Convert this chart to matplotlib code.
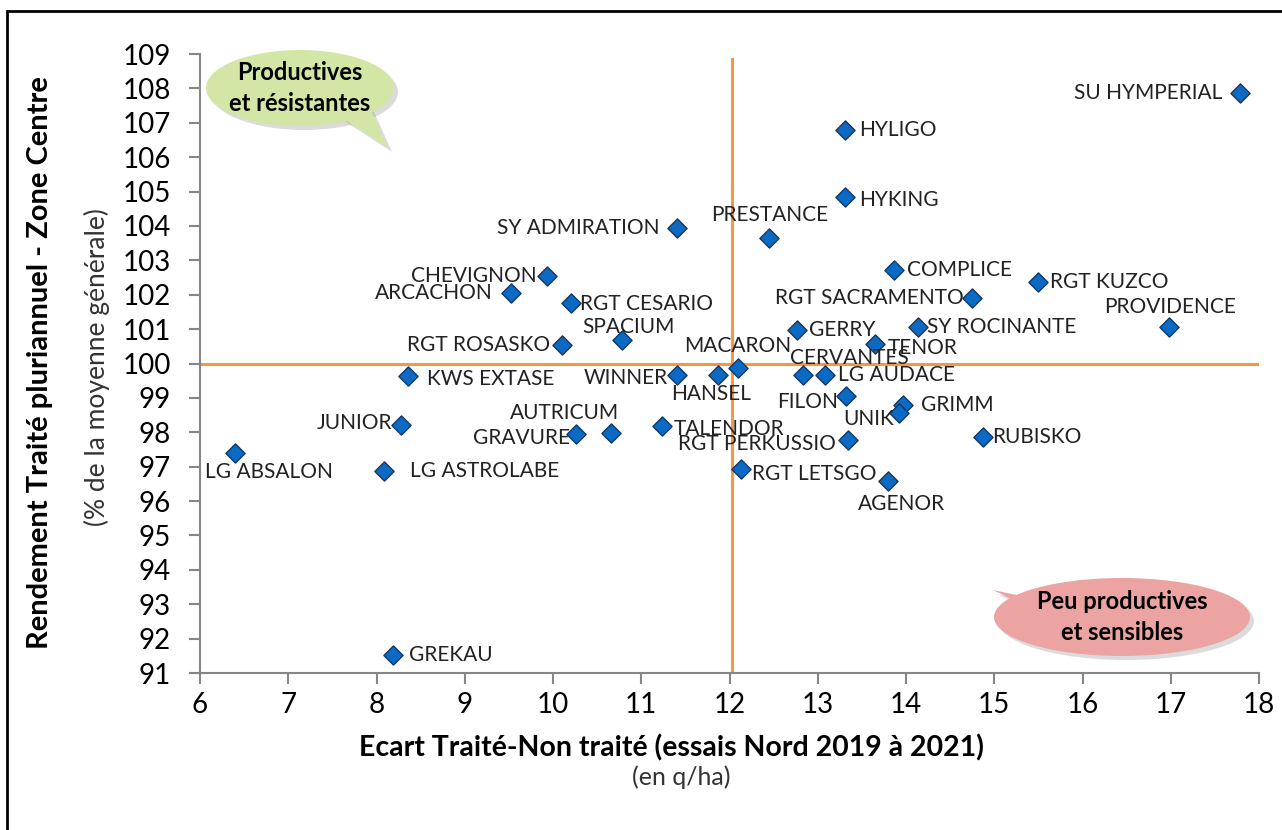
import matplotlib
matplotlib.use("Agg")
from matplotlib import pyplot as plt
from matplotlib.patches import Ellipse, Polygon, Rectangle

plt.rcParams['font.family'] = ['Lato', 'DejaVu Sans']

# Varieties and values
varietes = ['SU HYMPERIAL', 'HYLIGO', 'HYKING', 'SY ADMIRATION', 'PRESTANCE',
            'COMPLICE', 'RGT KUZCO', 'RGT SACRAMENTO', 'PROVIDENCE', 'SY ROCINANTE',
            'GERRY', 'TENOR', 'CHEVIGNON', 'ARCACHON', 'RGT CESARIO', 'SPACIUM',
            'RGT ROSASKO', 'KWS EXTASE', 'WINNER', 'HANSEL', 'MACARON', 'CERVANTES',
            'LG AUDACE', 'FILON', 'GRIMM', 'UNIK', 'RGT PERKUSSIO', 'RGT LETSGO',
            'AGENOR', 'RUBISKO', 'TALENDOR', 'GRAVURE', 'AUTRICUM', 'JUNIOR',
            'LG ABSALON', 'LG ASTROLABE', 'GREKAU']
ecart = [17.78, 13.31, 13.31, 11.41, 12.45,
         13.86, 15.50, 14.75, 16.98, 14.14,
         12.77, 13.65, 9.93, 9.52, 10.20, 10.78,
         10.10, 8.36, 11.41, 11.87, 12.10, 12.83,
         13.08, 13.32, 13.97, 13.92, 13.34, 12.13,
         13.80, 14.87, 11.24, 10.26, 10.66, 8.28,
         6.40, 8.09, 8.19]
rendement = [107.87, 106.79, 104.84, 103.94, 103.65,
             102.72, 102.37, 101.91, 101.06, 101.06,
             100.97, 100.57, 102.55, 102.05, 101.76, 100.69,
             100.54, 99.64, 99.67, 99.67, 99.87, 99.67,
             99.67, 99.06, 98.80, 98.56, 97.78, 96.93,
             96.58, 97.86, 98.18, 97.95, 97.98, 98.21,
             97.40, 96.88, 91.52]

# label offsets in pixels (dx, dy up, ha)
offsets = {
    'SU HYMPERIAL': (-17, 0, 'right'), 'HYLIGO': (14, 0, 'left'), 'HYKING': (14, -3, 'left'),
    'SY ADMIRATION': (-18, 0, 'right'), 'PRESTANCE': (0, 23, 'center'),
    'COMPLICE': (13, 0, 'left'), 'RGT KUZCO': (12, 0, 'left'),
    'RGT SACRAMENTO': (-8, 0, 'right'), 'PROVIDENCE': (1, 20, 'center'),
    'SY ROCINANTE': (9, 0, 'left'), 'GERRY': (12, 0, 'left'), 'TENOR': (13, -4, 'left'),
    'CHEVIGNON': (-10, 0, 'right'), 'ARCACHON': (-18, 0, 'right'),
    'RGT CESARIO': (9, -1, 'left'), 'SPACIUM': (7, 13, 'center'),
    'RGT ROSASKO': (-12, 0, 'right'), 'KWS EXTASE': (19, -3, 'left'),
    'WINNER': (-10, -3, 'right'), 'HANSEL': (-7, -19, 'center'),
    'MACARON': (-1, 22, 'center'), 'CERVANTES': (47, 17, 'center'),
    'LG AUDACE': (13, 0, 'left'), 'FILON': (-8, -6, 'right'), 'GRIMM': (18, 0, 'left'),
    'UNIK': (-30, -6, 'center'), 'RGT PERKUSSIO': (-12, -4, 'right'),
    'RGT LETSGO': (11, -5, 'left'), 'AGENOR': (13, -23, 'center'),
    'RUBISKO': (9, 0, 'left'), 'TALENDOR': (11, -3, 'left'),
    'GRAVURE': (-6, -4, 'right'), 'AUTRICUM': (-47, 20, 'center'),
    'JUNIOR': (-9, 2, 'right'), 'LG ABSALON': (34, -19, 'center'),
    'LG ASTROLABE': (26, 0, 'left'), 'GREKAU': (16, 0, 'left'),
}

W, H = 1282, 830
fig = plt.figure(figsize=(W / 100, H / 100), dpi=100)
ax = fig.add_axes([200 / W, 1 - 673 / H, 1059 / W, 619 / H])


def fx(px):
    return px / W


def fy(py):
    return 1 - py / H


# outer chart frame
fig.patches.append(Rectangle((fx(7), fy(900)), fx(1300 - 7), fy(11) - fy(900),
                             transform=fig.transFigure, fill=False,
                             edgecolor='black', linewidth=2))

orange = '#f79646'
ax.axhline(100, color=orange, linewidth=2.2, zorder=1)
ax.plot([12.03, 12.03], [91, 108.85], color=orange, linewidth=2.2, zorder=1)

ax.scatter(ecart, rendement, marker='D', s=95, facecolor='#0a6ac4',
           edgecolor='#17365d', linewidth=1.0, zorder=3)

for nom, x, y in zip(varietes, ecart, rendement):
    dx, dy, ha = offsets[nom]
    ax.annotate(nom, (x, y), xytext=(dx, dy), textcoords='offset pixels',
                ha=ha, va='center', fontsize=15, color='#222222', zorder=4)

ax.set_xlim(6, 18)
ax.set_ylim(91, 109)
ax.set_xticks(range(6, 19))
ax.set_yticks(range(91, 110))
ax.tick_params(labelsize=20, length=8, width=1.5, color='#868686', pad=6)
ax.tick_params(axis='y', pad=13)
for side in ['top', 'right']:
    ax.spines[side].set_visible(False)
for side in ['left', 'bottom']:
    ax.spines[side].set_color('#868686')
    ax.spines[side].set_linewidth(1.5)

fig.text(fx(671), fy(748), 'Ecart Traité-Non traité (essais Nord 2019 à 2021)',
         ha='center', va='center', fontsize=20.5, fontweight='bold')
fig.text(fx(681), fy(777), '(en q/ha)', ha='center', va='center', fontsize=18,
         color='#333333')
fig.text(fx(40), fy(363), 'Rendement Traité pluriannuel - Zone Centre',
         ha='center', va='center', rotation=90, fontsize=21, fontweight='bold')
fig.text(fx(97), fy(367), '(% de la moyenne générale)', ha='center', va='center',
         rotation=90, fontsize=19, color='#333333')


def bulle(cx, cy, w, h, tail, color, text):
    # speech bubble drawn in figure coordinates
    sh = 4
    tail_pts = [(fx(px), fy(py)) for px, py in tail]
    tail_sh = [(fx(px + sh), fy(py + sh)) for px, py in tail]
    fig.patches.append(Polygon(tail_sh, closed=True, transform=fig.transFigure,
                               facecolor='#999999', alpha=0.35, edgecolor='none'))
    fig.patches.append(Ellipse((fx(cx + sh), fy(cy + sh)), fx(w), h / H,
                               transform=fig.transFigure, facecolor='#999999',
                               alpha=0.35, edgecolor='none'))
    fig.patches.append(Polygon(tail_pts, closed=True, transform=fig.transFigure,
                               facecolor=color, edgecolor='none'))
    fig.patches.append(Ellipse((fx(cx), fy(cy)), fx(w), h / H,
                               transform=fig.transFigure, facecolor=color,
                               edgecolor='none'))
    fig.text(fx(cx), fy(cy), text, ha='center', va='center', fontsize=17,
             fontweight='bold', linespacing=1.45)


bulle(300, 88, 188, 76, [(330, 110), (370, 108), (388, 148)], '#d3e6a5',
      'Productives\net résistantes')
bulle(1122, 617, 256, 78, [(1040, 600), (1065, 625), (993, 590)], '#eba4a2',
      'Peu productives\net sensibles')

fig.savefig('out.png', dpi=100)
